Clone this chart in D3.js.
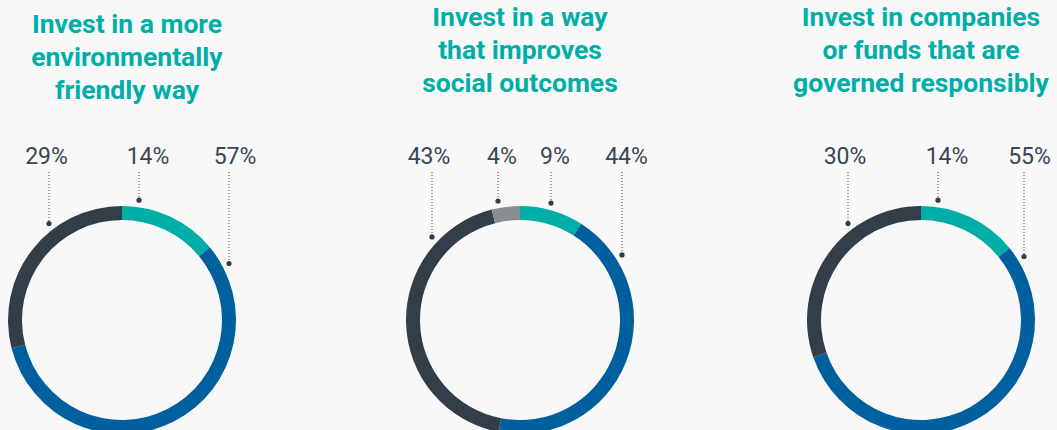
<!DOCTYPE html>
<html>
<head>
<meta charset="utf-8">
<script src="https://cdn.jsdelivr.net/npm/d3@7"></script>
<style>
  html, body { margin: 0; padding: 0; background: #f8f8f8; }
  svg { display: block; font-family: Roboto, "Open Sans", sans-serif; }
</style>
</head>
<body>
<svg id="chart" width="1057" height="430"></svg>
<script>
// Survey shares per investment approach (percent), in clockwise order from 12 o'clock
const segments = ["Yes, definitely", "Yes, probably", "No", "Don't know"];
const environmentalShares = [14, 57, 29];
const socialShares = [9, 44, 43, 4];
const governanceShares = [14, 55, 30];

const titleLines = [
  ["Invest in a more", "environmentally", "friendly way"],
  ["Invest in a way", "that improves", "social outcomes"],
  ["Invest in companies", "or funds that are", "governed responsibly"]
];

// Presentation settings
const segmentColors = ["#00aea8", "#00609e", "#323e49", "#898d92"];
const panels = [
  { shares: environmentalShares, cx: 122, titleX: 127, titleY: 33,
    labelDx: [26, 113, -75.5], leaderDx: [17, 107, -73] },
  { shares: socialShares, cx: 520, titleX: 520, titleY: 26,
    labelDx: [35, 106.5, -91, -18], leaderDx: [31, 102, -88, -22] },
  { shares: governanceShares, cx: 921, titleX: 921, titleY: 26,
    labelDx: [26, 108.5, -76], leaderDx: [17, 103, -73] }
];
const cy = 320, outerR = 114, innerR = 100, dotR = 121;
const labelY = 164, leaderTop = 172;

const svg = d3.select("#chart");
const pie = d3.pie().sort(null).value(d => d);
const arc = d3.arc().innerRadius(innerR).outerRadius(outerR);

panels.forEach((p, i) => {
  const g = svg.append("g");

  // Title
  const title = g.append("text")
    .attr("x", p.titleX)
    .attr("y", p.titleY)
    .attr("text-anchor", "middle")
    .attr("fill", "#00aea8")
    .attr("font-size", 26.5)
    .attr("font-weight", 700);
  titleLines[i].forEach((line, j) => {
    title.append("tspan")
      .attr("x", p.titleX)
      .attr("y", p.titleY + j * 33)
      .text(line);
  });

  // Donut ring
  const ring = g.append("g").attr("transform", `translate(${p.cx},${cy})`);
  ring.selectAll("path")
    .data(pie(p.shares))
    .join("path")
    .attr("d", arc)
    .attr("fill", (d, k) => segmentColors[k]);

  // Percentage labels with dotted leaders
  p.shares.forEach((v, k) => {
    const lx = p.cx + p.leaderDx[k];
    const dx = p.leaderDx[k];
    const dotY = cy - Math.sqrt(dotR * dotR - dx * dx);
    g.append("line")
      .attr("x1", lx).attr("x2", lx)
      .attr("y1", leaderTop).attr("y2", dotY)
      .attr("stroke", "#3a4652")
      .attr("stroke-width", 1)
      .attr("stroke-dasharray", "1,2");
    g.append("circle")
      .attr("cx", lx).attr("cy", dotY)
      .attr("r", 2.6)
      .attr("fill", "#323e49");
    g.append("text")
      .attr("x", p.cx + p.labelDx[k])
      .attr("y", labelY)
      .attr("text-anchor", "middle")
      .attr("fill", "#3a4652")
      .attr("font-size", 23)
      .attr("font-weight", 400)
      .text(v + "%");
  });
});
</script>
</body>
</html>
